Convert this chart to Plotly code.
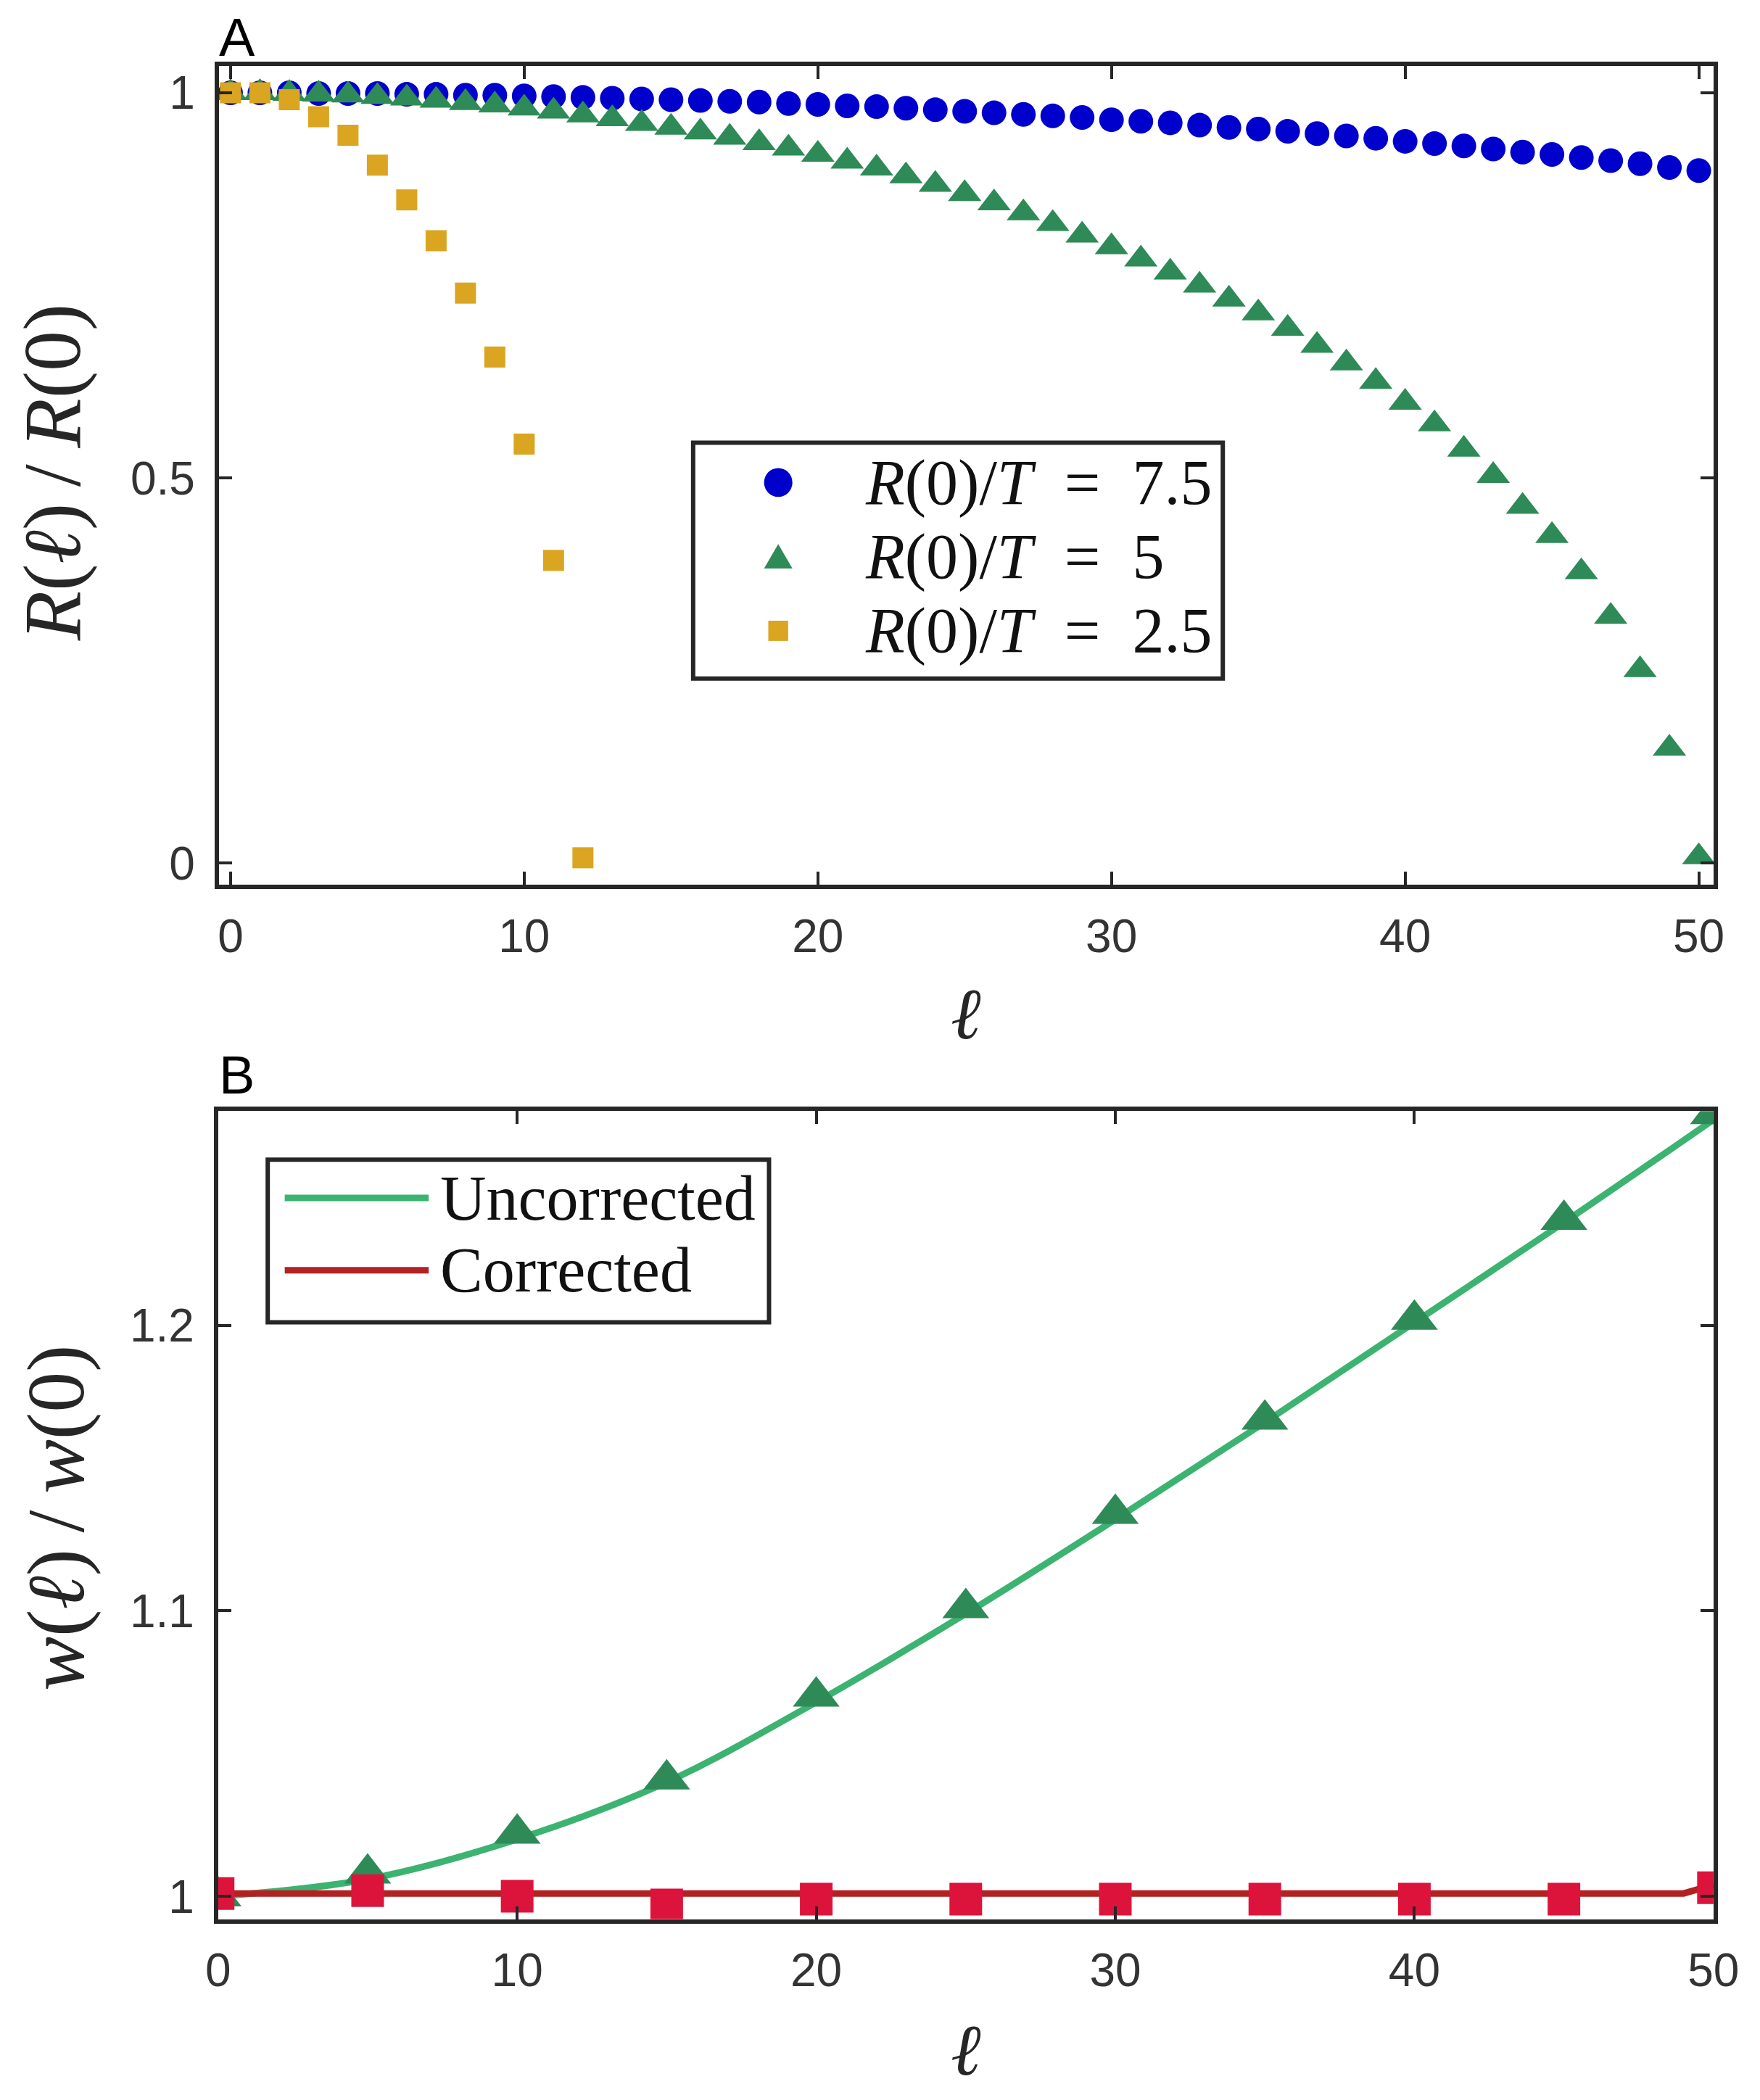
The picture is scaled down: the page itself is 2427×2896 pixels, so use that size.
import plotly.graph_objects as go

# panel A: R(l)/R(0) for three values of R(0)/T
ell = list(range(51))
r_75 = [1.000, 1.000, 1.000, 0.999, 0.999, 0.999, 0.998, 0.998, 0.997, 0.997,
        0.996, 0.995, 0.994, 0.993, 0.992, 0.991, 0.990, 0.989, 0.988, 0.986,
        0.985, 0.983, 0.982, 0.980, 0.978, 0.976, 0.974, 0.972, 0.970, 0.968,
        0.965, 0.963, 0.961, 0.958, 0.955, 0.953, 0.950, 0.947, 0.944, 0.941,
        0.937, 0.934, 0.931, 0.927, 0.923, 0.920, 0.916, 0.912, 0.908, 0.903,
        0.899]
r_5 = [1.000, 1.000, 0.999, 0.998, 0.997, 0.995, 0.993, 0.990, 0.987, 0.984,
       0.980, 0.976, 0.971, 0.966, 0.960, 0.955, 0.949, 0.942, 0.935, 0.928,
       0.920, 0.911, 0.902, 0.892, 0.881, 0.869, 0.857, 0.844, 0.830, 0.815,
       0.800, 0.784, 0.767, 0.750, 0.732, 0.714, 0.694, 0.672, 0.649, 0.625,
       0.598, 0.570, 0.537, 0.503, 0.463, 0.425, 0.378, 0.320, 0.251, 0.149,
       0.008]
ell_25 = list(range(13))
r_25 = [1.000, 1.000, 0.991, 0.969, 0.945, 0.906, 0.861, 0.808, 0.740, 0.657,
        0.544, 0.393, 0.007]

# panel B: w(l)/w(0)
ell_b = [0, 5, 10, 15, 20, 25, 30, 35, 40, 45, 50]
w_unc_line = [1.000, 1.006, 1.020, 1.040, 1.068, 1.099, 1.132, 1.166, 1.201, 1.236, 1.272]
w_unc_pts = [1.000, 1.008, 1.022, 1.041, 1.070, 1.101, 1.134, 1.167, 1.202, 1.237, 1.274]
ell_cor = [0, 10, 20, 30, 40, 49, 50]
w_cor_line = [1.001, 1.001, 1.001, 1.001, 1.001, 1.001, 1.004]
w_cor_pts = [1.001, 1.002, 1.000, 0.997, 0.999, 0.999, 0.999, 0.999, 0.999, 0.999, 1.003]

labels_a = ['<i>R</i>(0)/<i>T</i>\u2002=\u20027.5',
            '<i>R</i>(0)/<i>T</i>\u2002=\u20025',
            '<i>R</i>(0)/<i>T</i>\u2002=\u20022.5']
colors_a = ['#0000CD', '#2E8B57', '#DAA520']
labels_b = ['Uncorrected', 'Corrected']
colors_b = ['#3CB371', '#B22222']

W, H = 2427, 2896
FRAME = '#262626'
SERIF = 'Liberation Serif'
SANS = 'Liberation Sans'


def px(x):
    return x / W


def py(y):
    return 1 - y / H


fig = go.Figure()

fig.add_trace(go.Scatter(x=ell, y=r_75, mode='markers', name=labels_a[0],
                         marker=dict(symbol='circle', size=34, color=colors_a[0]),
                         xaxis='x', yaxis='y'))
fig.add_trace(go.Scatter(x=ell, y=r_5, mode='markers', name=labels_a[1],
                         marker=dict(symbol='triangle-up', size=40, color=colors_a[1]),
                         xaxis='x', yaxis='y'))
fig.add_trace(go.Scatter(x=ell_25, y=r_25, mode='markers', name=labels_a[2],
                         marker=dict(symbol='square', size=29, color=colors_a[2]),
                         xaxis='x', yaxis='y'))

fig.add_trace(go.Scatter(x=ell_b, y=w_unc_line, mode='lines', name=labels_b[0],
                         line=dict(color=colors_b[0], width=9, shape='spline'),
                         xaxis='x2', yaxis='y2'))
fig.add_trace(go.Scatter(x=ell_cor, y=w_cor_line, mode='lines', name=labels_b[1],
                         line=dict(color=colors_b[1], width=9),
                         xaxis='x2', yaxis='y2'))
fig.add_trace(go.Scatter(x=ell_b, y=w_unc_pts, mode='markers', name='uncorrected (points)',
                         marker=dict(symbol='triangle-up', size=56, color='#2E8B57'),
                         xaxis='x2', yaxis='y2'))
fig.add_trace(go.Scatter(x=ell_b, y=w_cor_pts, mode='markers', name='corrected (points)',
                         marker=dict(symbol='square', size=45, color='#DC143C'),
                         xaxis='x2', yaxis='y2'))

axis_common = dict(
    showgrid=False, zeroline=False, showline=True, linecolor=FRAME, linewidth=6,
    mirror='ticks', ticks='inside', ticklen=18, tickwidth=4, tickcolor=FRAME,
    tickfont=dict(family=SANS, size=64, color='#333333'),
)

fig.update_layout(
    width=W, height=H,
    paper_bgcolor='white', plot_bgcolor='white',
    margin=dict(l=0, r=0, t=0, b=0),
    showlegend=False,
    xaxis=dict(axis_common, domain=[px(282), px(2390)], range=[-0.4, 50.5],
               tickvals=[0, 10, 20, 30, 40, 50], anchor='y', ticklabelstandoff=10),
    yaxis=dict(axis_common, domain=[py(1215), py(83)], range=[-0.028, 1.035],
               tickvals=[0, 0.5, 1], ticktext=['0', '0.5', '1'], anchor='x',
               ticklabelstandoff=14),
    xaxis2=dict(axis_common, domain=[px(281), px(2390)], range=[0, 50],
                tickvals=[0, 10, 20, 30, 40, 50], anchor='y2', ticklabelstandoff=10),
    yaxis2=dict(axis_common, domain=[py(2645), py(1528)], range=[0.992, 1.275],
                tickvals=[1, 1.1, 1.2], ticktext=['1', '1.1', '1.2'], anchor='x2',
                ticklabelstandoff=14),
)

shapes = []
annotations = []


def paper_shape(**kw):
    kw.update(xref='paper', yref='paper', layer='above')
    shapes.append(kw)


# legend of panel A: framed box, key glyphs and labels
leg_a = dict(left=951, right=1698, top=604, bottom=930)
row_a = [659, 761, 864]
key_x = 1071
paper_shape(type='rect', x0=px(leg_a['left']), x1=px(leg_a['right']),
            y0=py(leg_a['bottom']), y1=py(leg_a['top']),
            line=dict(color=FRAME, width=6), fillcolor='white')
r = 20
paper_shape(type='circle', x0=px(key_x - r), x1=px(key_x + r),
            y0=py(row_a[0] + r), y1=py(row_a[0] - r),
            fillcolor=colors_a[0], line=dict(width=0))
tri_h = 34
paper_shape(type='path',
            path=f'M {px(key_x - r)},{py(row_a[1] + tri_h / 2)} '
                 f'L {px(key_x + r)},{py(row_a[1] + tri_h / 2)} '
                 f'L {px(key_x)},{py(row_a[1] - tri_h / 2)} Z',
            fillcolor=colors_a[1], line=dict(width=0))
s = 14
paper_shape(type='rect', x0=px(key_x - s), x1=px(key_x + s),
            y0=py(row_a[2] + s), y1=py(row_a[2] - s),
            fillcolor=colors_a[2], line=dict(width=0))
for label, yy in zip(labels_a, row_a):
    annotations.append(dict(text=label, x=px(1191), y=py(yy), xanchor='left', yanchor='middle',
                            font=dict(family=SERIF, size=88, color='#111111')))

# legend of panel B: framed box, line keys and labels
leg_b = dict(left=351, right=1058, top=1595, bottom=1820)
row_b = [1648, 1748]
paper_shape(type='rect', x0=px(leg_b['left']), x1=px(leg_b['right']),
            y0=py(leg_b['bottom']), y1=py(leg_b['top']),
            line=dict(color=FRAME, width=6), fillcolor='white')
for label, col, yy in zip(labels_b, colors_b, row_b):
    paper_shape(type='line', x0=px(375), x1=px(578), y0=py(yy), y1=py(yy),
                line=dict(color=col, width=9))
    annotations.append(dict(text=label, x=px(592), y=py(yy), xanchor='left', yanchor='middle',
                            font=dict(family=SERIF, size=88, color='#111111')))

annotations += [
    dict(text='A', x=px(280), y=py(0), xanchor='left', yanchor='top',
         font=dict(family=SANS, size=74, color='black')),
    dict(text='B', x=px(280), y=py(1434), xanchor='left', yanchor='top',
         font=dict(family=SANS, size=74, color='black')),
    dict(text='<i>ℓ</i>', x=px(1336), y=py(1394), xanchor='center', yanchor='middle',
         font=dict(family=SERIF, size=100, color=FRAME)),
    dict(text='<i>ℓ</i>', x=px(1336), y=py(2826), xanchor='center', yanchor='middle',
         font=dict(family=SERIF, size=100, color=FRAME)),
    dict(text='<i>R</i>(<i>ℓ</i>)\u2009/\u2009<i>R</i>(0)', x=px(48), y=py(645),
         xanchor='center', yanchor='middle', textangle=-90,
         font=dict(family=SERIF, size=112, color=FRAME)),
    dict(text='<i>w</i>(<i>ℓ</i>)\u2009/\u2009<i>w</i>(0)', x=px(52), y=py(2090),
         xanchor='center', yanchor='middle', textangle=-90,
         font=dict(family=SERIF, size=112, color=FRAME)),
]
for a in annotations:
    a.update(xref='paper', yref='paper', showarrow=False)
fig.update_layout(shapes=shapes, annotations=annotations)

fig.write_html('out.html')
